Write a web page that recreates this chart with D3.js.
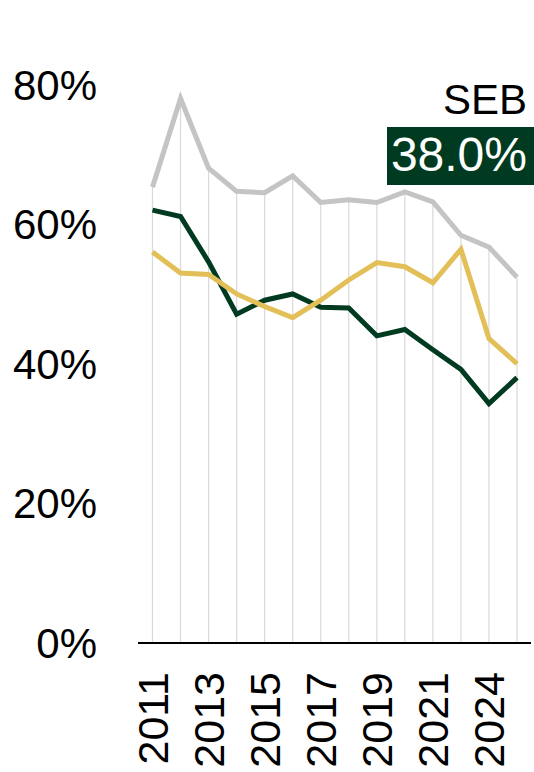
<!DOCTYPE html>
<html lang="en">
<head>
  <meta charset="UTF-8">
  <title>SEB share</title>
  <script src="https://d3js.org/d3.v7.min.js"></script>
  <style>
    body { margin: 0; background: #fff; }
    text { font-family: "Liberation Sans", Arial, sans-serif; }
  </style>
</head>
<body>
  <svg id="chart" width="534" height="772"></svg>
  <script>
    // years on the x axis (one year between 2021 and 2024 is not labelled)
    const years = ["2011", "2012", "2013", "2014", "2015", "2016", "2017", "2018", "2019", "2020", "2021", "2022", "2024", "2025"];
    const shownYears = ["2011", "2013", "2015", "2017", "2019", "2021", "2024"];
    const yTicks = [0, 20, 40, 60, 80];

    const grayValues = [65.3, 78.0, 68.0, 64.7, 64.5, 66.9, 63.1, 63.5, 63.1, 64.6, 63.2, 58.4, 56.7, 52.4];
    const yellowValues = [56.0, 53.0, 52.8, 50.0, 48.2, 46.6, 49.1, 52.0, 54.5, 53.9, 51.6, 56.4, 43.6, 40.0];
    const sebValues = [62.0, 61.1, 54.6, 47.1, 49.1, 50.0, 48.1, 48.0, 44.0, 44.9, 42.0, 39.2, 34.3, 38.0];

    const title = "SEB";
    const green = "#003b21", yellow = "#e3bf58", gray = "#c4c4c4";

    const svg = d3.select("#chart");

    const x = d3.scalePoint().domain(years).range([152.5, 517]);
    const y = d3.scaleLinear().domain([0, 80]).range([643, 84.5]);

    // drop lines from the top series down to zero
    svg.append("g")
      .selectAll("line")
      .data(years)
      .enter().append("line")
      .attr("x1", d => x(d))
      .attr("x2", d => x(d))
      .attr("y1", (d, i) => y(Math.max(grayValues[i], yellowValues[i], sebValues[i])))
      .attr("y2", y(0))
      .style("stroke", "#d9d9d9")
      .style("stroke-width", 1.2);

    // baseline
    svg.append("line")
      .attr("x1", 138).attr("x2", 531)
      .attr("y1", y(0)).attr("y2", y(0))
      .style("stroke", "#000")
      .style("stroke-width", 2);

    // y tick labels
    svg.append("g")
      .selectAll("text")
      .data(yTicks)
      .enter().append("text")
      .attr("x", 97)
      .attr("y", d => y(d))
      .attr("dy", "0.36em")
      .attr("text-anchor", "end")
      .style("font-size", "42px")
      .style("fill", "#000")
      .text(d => d + "%");

    // x tick labels, rotated
    svg.append("g")
      .selectAll("text")
      .data(shownYears)
      .enter().append("text")
      .attr("transform", d => `translate(${x(d)},672) rotate(-90)`)
      .attr("dy", "0.36em")
      .attr("text-anchor", "end")
      .style("font-size", "43px")
      .style("fill", "#000")
      .text(d => d);

    const line = d3.line()
      .x((d, i) => x(years[i]))
      .y(d => y(d));

    const series = [
      { values: grayValues, color: gray },
      { values: sebValues, color: green },
      { values: yellowValues, color: yellow }
    ];

    svg.append("g")
      .selectAll("path")
      .data(series)
      .enter().append("path")
      .attr("d", d => line(d.values))
      .style("fill", "none")
      .style("stroke", d => d.color)
      .style("stroke-width", 5)
      .style("stroke-linejoin", "miter");

    // label top right
    svg.append("text")
      .attr("x", 527)
      .attr("y", 113.5)
      .attr("text-anchor", "end")
      .style("font-size", "42px")
      .style("fill", "#000")
      .text(title);

    const last = sebValues[sebValues.length - 1];
    svg.append("rect")
      .attr("x", 387)
      .attr("y", 127)
      .attr("width", 147)
      .attr("height", 58)
      .style("fill", green);

    svg.append("text")
      .attr("x", 527)
      .attr("y", 170.5)
      .attr("text-anchor", "end")
      .style("font-size", "48px")
      .style("fill", "#fff")
      .text(d3.format(".1f")(last) + "%");
  </script>
</body>
</html>
